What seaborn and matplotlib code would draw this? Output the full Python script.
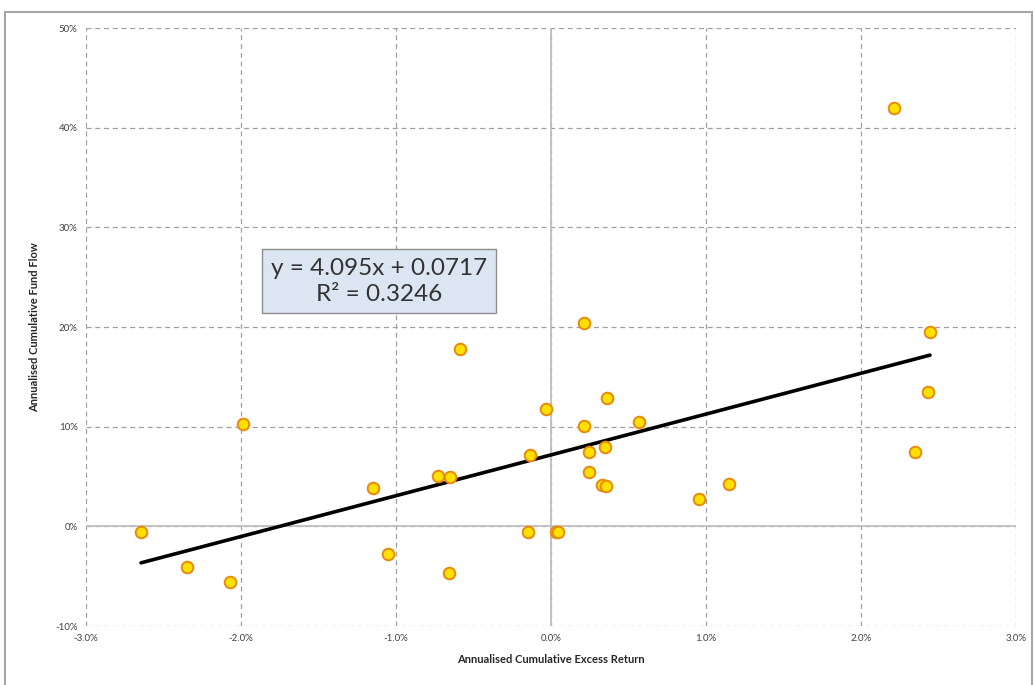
import numpy as np
import pandas as pd
import seaborn as sns
import matplotlib.pyplot as plt
from matplotlib.patches import Rectangle
from matplotlib.ticker import FuncFormatter

# excess return (%), fund flow (%)
excess_return = [-2.645, -2.35, -2.07, -1.99, -1.15, -1.05, -0.73, -0.65, -0.66, -0.59,
                 -0.135, -0.15, -0.03, 0.03, 0.045, 0.21, 0.21, 0.245, 0.245, 0.35,
                 0.36, 0.33, 0.355, 0.57, 0.955, 1.15, 2.21, 2.445, 2.43, 2.35]
fund_flow = [-0.6, -4.1, -5.6, 10.3, 3.8, -2.8, 5.1, 5.0, -4.7, 17.8,
             7.2, -0.6, 11.8, -0.6, -0.6, 20.4, 10.1, 7.5, 5.5, 8.0,
             12.9, 4.1, 4.0, 10.5, 2.7, 4.2, 42.0, 19.5, 13.5, 7.5]

# trendline as given by the chart
slope = 4.095
intercept = 0.0717
eq_text = "y = 4.095x + 0.0717\nR² = 0.3246"

x_ticks = [-3, -2, -1, 0, 1, 2, 3]
y_ticks = [-10, 0, 10, 20, 30, 40, 50]

df = pd.DataFrame({'ret': np.array(excess_return) / 100, 'flow': np.array(fund_flow) / 100})
x_line = np.array([df['ret'].min(), df['ret'].max()])
trend = pd.DataFrame({'ret': x_line, 'flow': slope * x_line + intercept})

sns.set_theme(style='white')
plt.rcParams['font.family'] = ['Lato', 'DejaVu Sans']

fig = plt.figure(figsize=(10.35, 6.85), dpi=100)
ax = fig.add_axes([0.0831, 0.0861, 0.8986, 0.873])

# outer chart border
fig.patches.append(Rectangle((5 / 1035, -0.05), 1027 / 1035, 1 - 12 / 685 + 0.05,
                             transform=fig.transFigure, fill=False,
                             edgecolor='#a6a6a6', linewidth=1.5))

sns.lineplot(data=trend, x='ret', y='flow', color='black', linewidth=2.6, ax=ax, zorder=3)
sns.scatterplot(data=df, x='ret', y='flow', s=70, color='#ffe000', edgecolor='#e8890c',
                linewidth=1.4, ax=ax, zorder=4)

ax.set_xlim(-0.03, 0.03)
ax.set_ylim(-0.10, 0.50)
ax.set_xticks([t / 100 for t in x_ticks])
ax.set_yticks([t / 100 for t in y_ticks])
ax.xaxis.set_major_formatter(FuncFormatter(lambda v, p: f"{v * 100:.1f}%"))
ax.yaxis.set_major_formatter(FuncFormatter(lambda v, p: f"{v * 100:.0f}%"))
ax.tick_params(axis='both', labelsize=7, colors='#404040', length=0, pad=6)

ax.grid(True, linestyle=(0, (4, 3)), color='#a0a0a0', linewidth=0.9)
for s in ax.spines.values():
    s.set_visible(False)
ax.axhline(0, color='#bfbfbf', linewidth=1.3, zorder=1)
ax.axvline(0, color='#bfbfbf', linewidth=1.3, zorder=1)

ax.set_xlabel('Annualised Cumulative Excess Return', fontsize=8, fontweight='bold',
              color='#262626', labelpad=8)
ax.set_ylabel('Annualised Cumulative Fund Flow', fontsize=8, fontweight='bold',
              color='#262626', labelpad=11)

ax.text(-0.0111, 0.246, eq_text, fontsize=17.5, ha='center', va='center', color='#333333',
        linespacing=1.3,
        bbox=dict(boxstyle='square,pad=0.35', facecolor='#dce6f2', edgecolor='#8c8c8c',
                  linewidth=1.0), zorder=5)

fig.savefig('out.png', dpi=100)
